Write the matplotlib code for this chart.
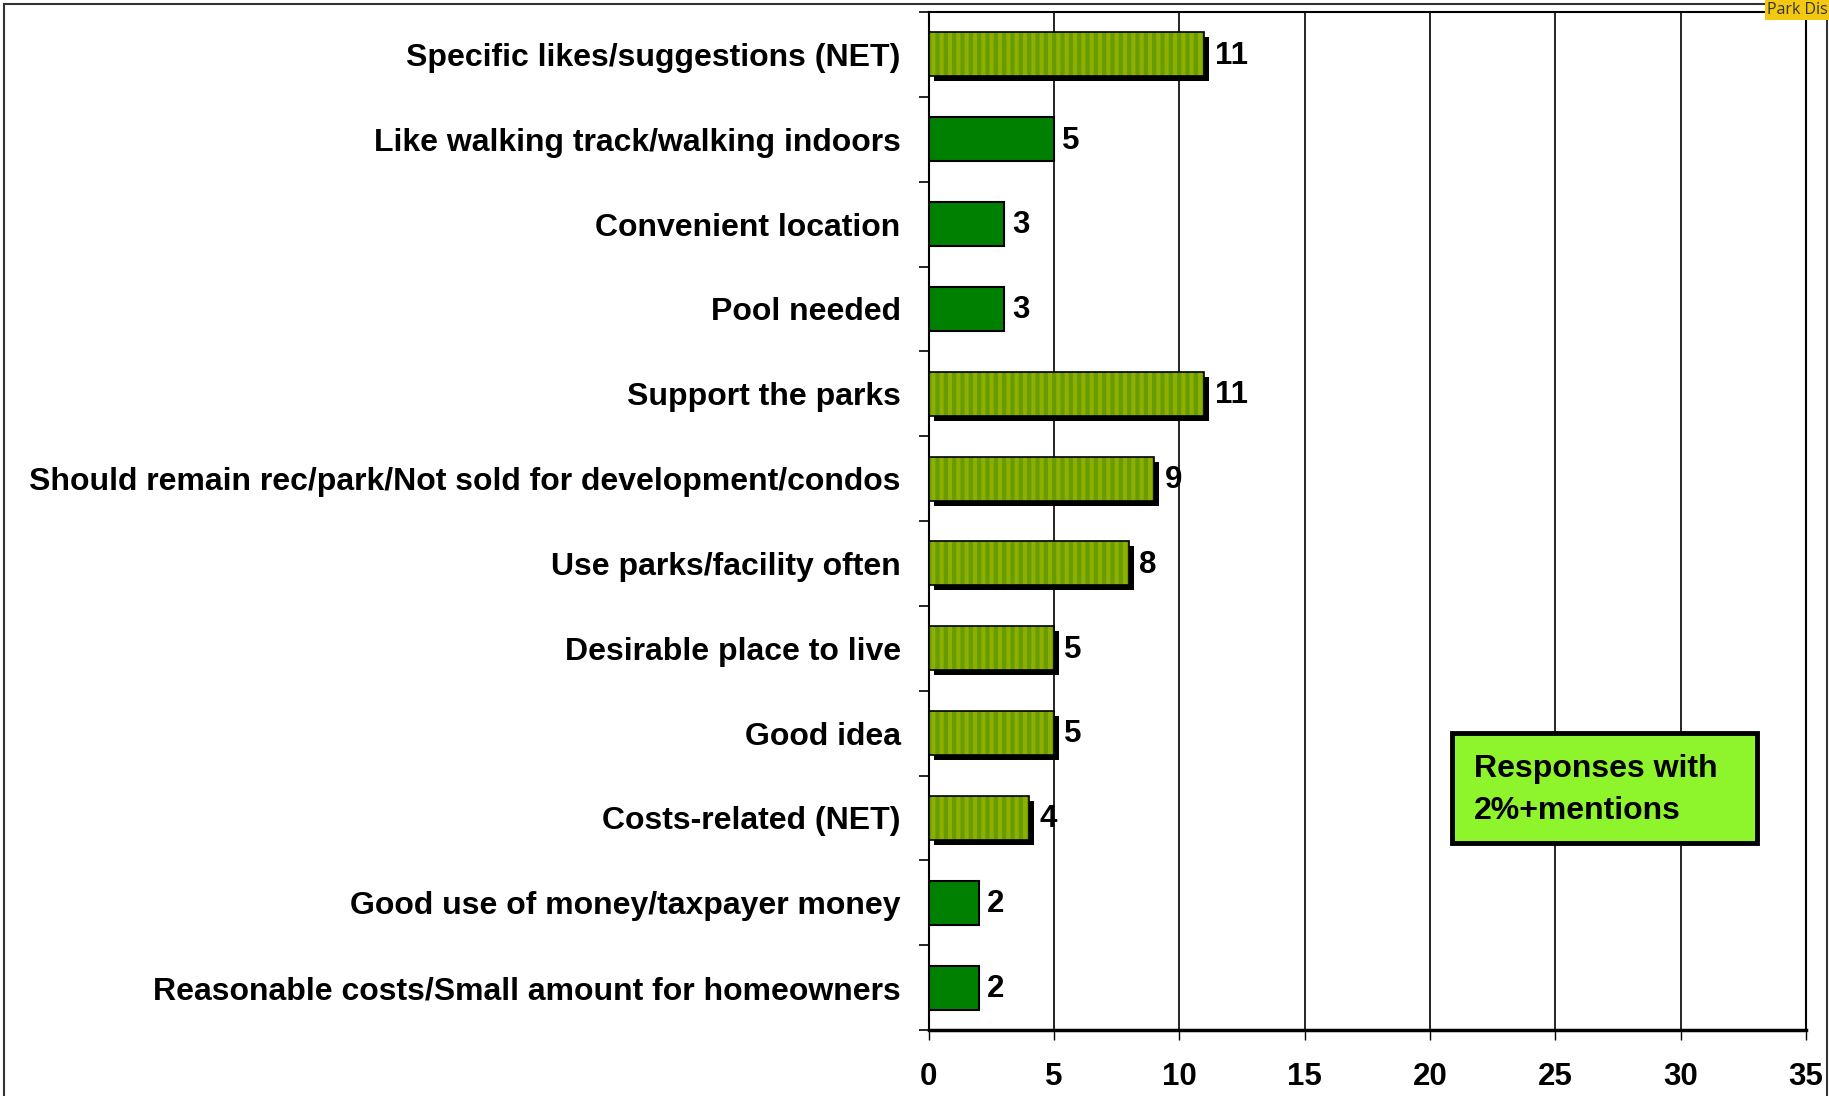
import matplotlib
matplotlib.use("Agg")
import matplotlib.pyplot as plt
import matplotlib.transforms as mtransforms
from matplotlib.patches import Rectangle
from matplotlib.lines import Line2D

plt.rcParams['font.family'] = ['Liberation Sans', 'DejaVu Sans']
plt.rcParams['hatch.linewidth'] = 3.0

categorias = [
    "Specific likes/suggestions (NET)",
    "Like walking track/walking indoors",
    "Convenient location",
    "Pool needed",
    "Support the parks",
    "Should remain rec/park/Not sold for development/condos",
    "Use parks/facility often",
    "Desirable place to live",
    "Good idea",
    "Costs-related (NET)",
    "Good use of money/taxpayer money",
    "Reasonable costs/Small amount for homeowners",
]
valores = [11, 5, 3, 3, 11, 9, 8, 5, 5, 4, 2, 2]
# True = barra listrada (NET / grupo), False = verde solido
listrada = [True, False, False, False, True, True, True, True, True, True, False, False]
ticks_x = [0, 5, 10, 15, 20, 25, 30, 35]
nota = "Responses with\n2%+mentions"

verde = "#008000"
oliva_claro = "#8DAF00"
oliva_escuro = "#679B00"

fig = plt.figure(figsize=(18.29, 10.96), dpi=100)
ax = fig.add_axes([928.5 / 1829, 66 / 1096, (1806 - 928.5) / 1829, 1018 / 1096])

pos = list(range(len(categorias)))
altura = 0.52

sombra = mtransforms.offset_copy(ax.transData, fig=fig, x=5, y=-5, units='dots')

for i, (v, lst) in enumerate(zip(valores, listrada)):
    if lst:
        ax.barh(i, v, height=altura, color='black', transform=sombra, zorder=2)
        ax.barh(i, v, height=altura, facecolor=oliva_claro, edgecolor=oliva_escuro,
                hatch='||', linewidth=0, zorder=3)
        ax.barh(i, v, height=altura, facecolor='none', edgecolor='black',
                linewidth=1.2, zorder=4)
        dx = 7.5
    else:
        ax.barh(i, v, height=altura, facecolor=verde, edgecolor='black',
                linewidth=1.5, zorder=3)
        dx = 6
    ax.annotate(str(v), (v, i), xytext=(dx, -1), textcoords='offset points',
                va='center', ha='left', fontsize=22.5, fontweight='bold', zorder=5)

ax.set_xlim(0, 35)
ax.set_ylim(len(categorias) - 0.5, -0.5)

ax.set_xticks(ticks_x)
ax.set_xticklabels([str(t) for t in ticks_x], fontsize=22.5, fontweight='bold')
ax.tick_params(axis='x', direction='out', length=7, width=1, pad=16)
ax.grid(axis='x', color='black', linewidth=1.2, zorder=1)
ax.set_axisbelow(True)

ax.set_yticks(pos)
ax.set_yticklabels(categorias, fontsize=23, fontweight='bold')
ax.tick_params(axis='y', which='major', length=0, pad=20)
ax.set_yticks([p - 0.5 for p in pos] + [len(categorias) - 0.5], minor=True)
ax.tick_params(axis='y', which='minor', direction='out', length=7, width=1.2)

for lado in ['left', 'top', 'right']:
    ax.spines[lado].set_linewidth(1.5)
ax.spines['bottom'].set_linewidth(2.5)

# caixa de nota
fig.patches.append(Rectangle((1452 / 1829, 253 / 1096), 305 / 1829, 110 / 1096,
                             transform=fig.transFigure, facecolor='#8EF52C',
                             edgecolor='black', linewidth=3.5, zorder=6))
fig.text(1474 / 1829, 1 - 790 / 1096, nota, fontsize=23, fontweight='bold',
         va='center', ha='left', linespacing=1.55, zorder=7)

# moldura externa
for xs, ys in [([4, 4], [0, 1092]), ([4, 1827], [1092, 1092]), ([1827, 1827], [0, 1092])]:
    fig.lines.append(Line2D([x / 1829 for x in xs], [y / 1096 for y in ys],
                            transform=fig.transFigure, color='#333333', linewidth=1.5))

# etiqueta amarela no canto
fig.patches.append(Rectangle((1765 / 1829, 1 - 20 / 1096), 70 / 1829, 20 / 1096,
                             transform=fig.transFigure, facecolor='#F2C811',
                             edgecolor='none', zorder=8))
fig.text(1767 / 1829, 1 - 10.5 / 1096, "Park Dis", fontsize=11.5, color='#333333',
         family=['Open Sans', 'DejaVu Sans'], va='center', ha='left', zorder=9)

fig.savefig("out.png", dpi=100)
